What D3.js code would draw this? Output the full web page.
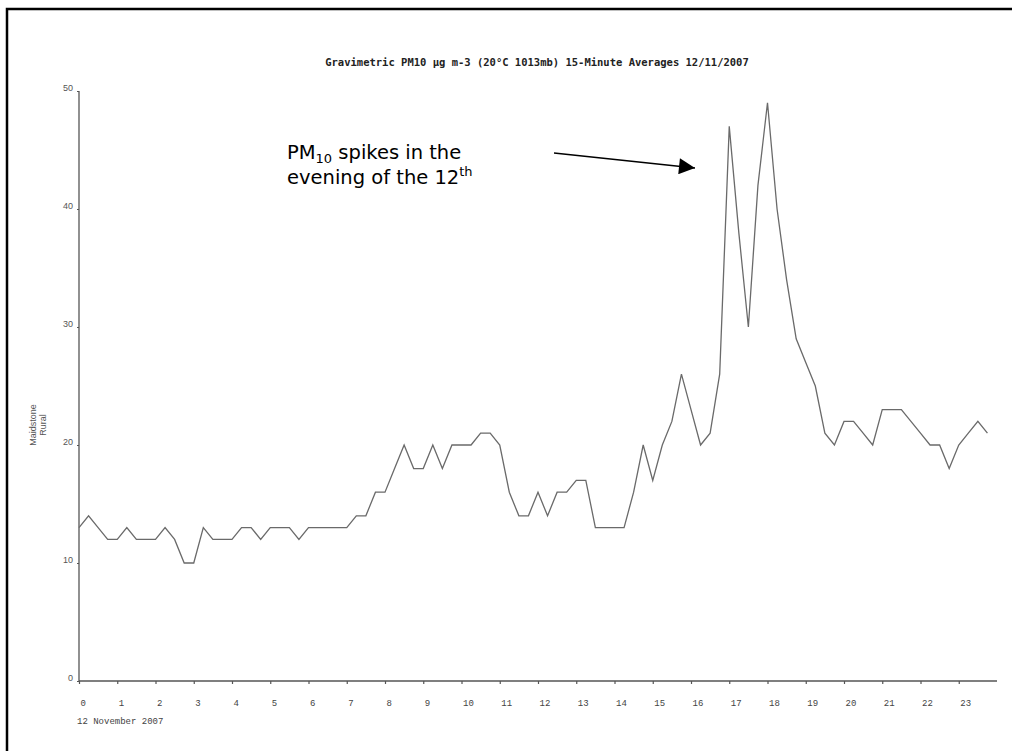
<!DOCTYPE html>
<html>
<head>
<meta charset="utf-8">
<script src="https://cdn.jsdelivr.net/npm/d3@7"></script>
<style>
  html, body { margin: 0; padding: 0; background: #fff; }
  svg { display: block; }
</style>
</head>
<body>
<svg id="chart" width="1012" height="751"></svg>
<script>
// Gravimetric PM10, Maidstone Rural, 15-minute averages on 12/11/2007
const chartTitle = "Gravimetric PM10 \u00b5g m-3 (20\u00b0C 1013mb) 15-Minute Averages 12/11/2007";
const siteName = ["Maidstone", "Rural"];
const dateLabel = "12 November 2007";

// quarter-hour slots starting at 00:00
const slotHours = d3.range(96).map(i => i / 4);
const pm10 = [
  13, 14, 13, 12, 12, 13, 12, 12, 12, 13, 12, 10, 10, 13, 12, 12,
  12, 13, 13, 12, 13, 13, 13, 12, 13, 13, 13, 13, 13, 14, 14, 16,
  16, 18, 20, 18, 18, 20, 18, 20, 20, 20, 21, 21, 20, 16, 14, 14,
  16, 14, 16, 16, 17, 17, 13, 13, 13, 13, 16, 20, 17, 20, 22, 26,
  23, 20, 21, 26, 47, 38, 30, 42, 49, 40, 34, 29, 27, 25, 21, 20,
  22, 22, 21, 20, 23, 23, 23, 22, 21, 20, 20, 18, 20, 21, 22, 21
];
const hourTicks = d3.range(0, 24);
const valueTicks = [0, 10, 20, 30, 40, 50];

const svg = d3.select("#chart");

// outer frame (top and left edges)
svg.append("path")
  .attr("d", "M7,751 V9 H1012")
  .attr("fill", "none")
  .attr("stroke", "#000")
  .attr("stroke-width", 2.5);

const x = d3.scaleLinear().domain([0, 24]).range([79, 997]);
const y = d3.scaleLinear().domain([0, 50]).range([681, 91]);

const axisColor = "#555";

// title
svg.append("text")
  .attr("x", 537).attr("y", 66)
  .attr("text-anchor", "middle")
  .attr("font-family", "DejaVu Sans Mono, monospace")
  .attr("font-weight", "bold")
  .attr("font-size", 10.5)
  .attr("fill", "#222")
  .text(chartTitle);

// x axis
const xAxis = svg.append("g")
  .attr("transform", `translate(0,${y(0)})`)
  .call(d3.axisBottom(x).tickValues(hourTicks).tickSize(3).tickFormat(d3.format("d")));
xAxis.select(".domain").attr("stroke", axisColor).attr("stroke-width", 1.3)
  .attr("d", `M${x(0)},0H${x(24)}`);
xAxis.selectAll(".tick line").attr("stroke", axisColor).attr("stroke-width", 1.2);
xAxis.selectAll(".tick text")
  .attr("text-anchor", "start")
  .attr("x", 1).attr("y", 25).attr("dy", 0)
  .attr("font-family", "Liberation Mono, monospace")
  .attr("font-size", 9)
  .attr("fill", "#444");

svg.append("text")
  .attr("x", 77).attr("y", 724)
  .attr("font-family", "Liberation Mono, monospace")
  .attr("font-size", 9)
  .attr("fill", "#444")
  .text(dateLabel);

// y axis
const yAxis = svg.append("g")
  .attr("transform", `translate(${x(0)},0)`)
  .call(d3.axisLeft(y).tickValues(valueTicks).tickSize(2).tickFormat(d3.format("d")));
yAxis.select(".domain").attr("stroke", axisColor).attr("stroke-width", 1.3)
  .attr("d", `M0,${y(50)}V${y(0)}`);
yAxis.selectAll(".tick line").attr("stroke", axisColor);
yAxis.selectAll(".tick text")
  .attr("x", -6).attr("dy", "-0.05em")
  .attr("font-family", "Liberation Sans, Arial, sans-serif")
  .attr("font-size", 9)
  .attr("fill", "#555");

// site label, rotated
const siteLabel = svg.append("text")
  .attr("transform", "translate(36,425) rotate(-90)")
  .attr("text-anchor", "middle")
  .attr("font-family", "Liberation Sans, Arial, sans-serif")
  .attr("font-size", 9)
  .attr("fill", "#555");
siteName.forEach((s, i) => {
  siteLabel.append("tspan").attr("x", 0).attr("dy", i === 0 ? 0 : 10).text(s);
});

// PM10 series
const line = d3.line()
  .x((d, i) => x(slotHours[i]))
  .y(d => y(d));
svg.append("path")
  .datum(pm10)
  .attr("d", line)
  .attr("fill", "none")
  .attr("stroke", "#6a6a6a")
  .attr("stroke-width", 1.3)
  .attr("stroke-linejoin", "miter");

// annotation
const note = svg.append("text")
  .attr("font-family", "DejaVu Sans, Verdana, sans-serif")
  .attr("font-size", 19.5)
  .attr("fill", "#000");
const l1 = note.append("tspan").attr("x", 287).attr("y", 159);
l1.append("tspan").text("PM");
l1.append("tspan").attr("font-size", 13).attr("dy", 4).text("10");
l1.append("tspan").attr("dy", -4).text(" spikes in the");
const l2 = note.append("tspan").attr("x", 287).attr("y", 184);
l2.append("tspan").text("evening of the 12");
l2.append("tspan").attr("font-size", 13).attr("dy", -8).text("th");

svg.append("defs").append("marker")
  .attr("id", "arrowhead")
  .attr("viewBox", "0 0 10 10")
  .attr("refX", 10).attr("refY", 5)
  .attr("markerWidth", 18).attr("markerHeight", 16)
  .attr("markerUnits", "userSpaceOnUse")
  .attr("orient", "auto")
  .append("path").attr("d", "M0,0L10,5L0,10Z").attr("fill", "#000");

svg.append("line")
  .attr("x1", 554).attr("y1", 153)
  .attr("x2", 695).attr("y2", 168)
  .attr("stroke", "#000")
  .attr("stroke-width", 1.6)
  .attr("marker-end", "url(#arrowhead)");
</script>
</body>
</html>
